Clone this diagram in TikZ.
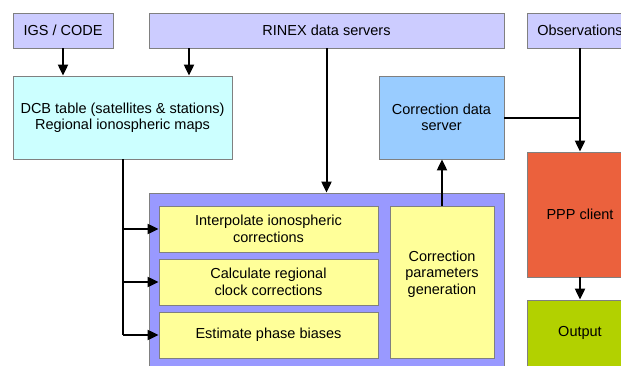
\documentclass[tikz,border=0pt]{standalone}
\usepackage{fontspec}
\setmainfont{Liberation Sans}
\usetikzlibrary{arrows.meta}
\definecolor{cLav}{HTML}{CCCCFF}
\definecolor{cCyan}{HTML}{CCFFFF}
\definecolor{cSky}{HTML}{99CCFF}
\definecolor{cPPP}{HTML}{EB613D}
\definecolor{cOut}{HTML}{B2D100}
\definecolor{cCont}{HTML}{9999FF}
\definecolor{cYel}{HTML}{FFFF99}
\begin{document}
\begin{tikzpicture}[x=1pt,y=-1pt,
  txt/.style={font=\fontsize{14.5}{16.5}\selectfont},
  box/.style={draw=black!50, line width=0.8pt, inner sep=0pt, align=center, txt},
  conn/.style={line width=2pt, -{Triangle[length=11pt,width=10pt]}},
  bus/.style={line width=2pt}]
\useasboundingbox (0,0) rectangle (621,365);
\clip (0,0) rectangle (621,365);
\fill[white] (0,0) rectangle (621,365);
% top sources
\node[box, fill=cLav, minimum width=100pt, minimum height=35pt] (igs) at (63,30.5) {IGS / CODE};
\node[box, fill=cLav, minimum width=355pt, minimum height=35pt] (rinex) at (326.5,30.5) {RINEX data servers};
\node[box, fill=cLav, minimum width=106pt, minimum height=35pt] (obs) at (580,30.5) {Observations};
% second row
\node[box, fill=cCyan, minimum width=219pt, minimum height=83pt] (dcb) at (122.5,117.5) {DCB table (satellites \& stations)\\Regional ionospheric maps};
\node[box, fill=cSky, minimum width=125pt, minimum height=83pt] (cds) at (441.5,117.5) {Correction data\\server};
% client side
\node[box, fill=cPPP, minimum width=106pt, minimum height=125pt] (ppp) at (580,214.5) {PPP client};
\node[box, fill=cOut, minimum width=106pt, minimum height=66pt] (out) at (580,333) {Output};
% processing container
\node[box, fill=cCont, minimum width=355pt, minimum height=176pt] (cont) at (326.5,281) {};
\node[box, fill=cYel, minimum width=219pt, minimum height=46pt] (y1) at (268.5,229) {Interpolate ionospheric\\corrections};
\node[box, fill=cYel, minimum width=219pt, minimum height=46pt] (y2) at (268.5,282) {Calculate regional\\clock corrections};
\node[box, fill=cYel, minimum width=219pt, minimum height=46pt] (y3) at (268.5,335) {Estimate phase biases};
\node[box, fill=cYel, minimum width=104pt, minimum height=152pt] (cpg) at (442,282) {};
\node[align=center, inner sep=0pt, txt] (cpgt) at (442,274) {Correction\\parameters\\generation};
% connectors
\coordinate (r1) at (189,0);
\draw[conn] (igs.south) -- (dcb.north -| igs.south);
\draw[conn] (rinex.south -| r1) -- (dcb.north -| r1);
\draw[conn] (rinex.south) -- (cont.north);
\draw[conn] (cpg.north) -- (cds.south -| cpg.north);
\draw[conn] (obs.south) -- (ppp.north);
\draw[bus] (cds.east) -- (cds.east -| obs.south);
\draw[conn] (ppp.south) -- (out.north);
\draw[bus] (dcb.south) -- (dcb.south |- y3.west);
\draw[conn] (dcb.south |- y1.west) -- (y1.west);
\draw[conn] (dcb.south |- y2.west) -- (y2.west);
\draw[conn] (dcb.south |- y3.west) -- (y3.west);
\end{tikzpicture}
\end{document}
